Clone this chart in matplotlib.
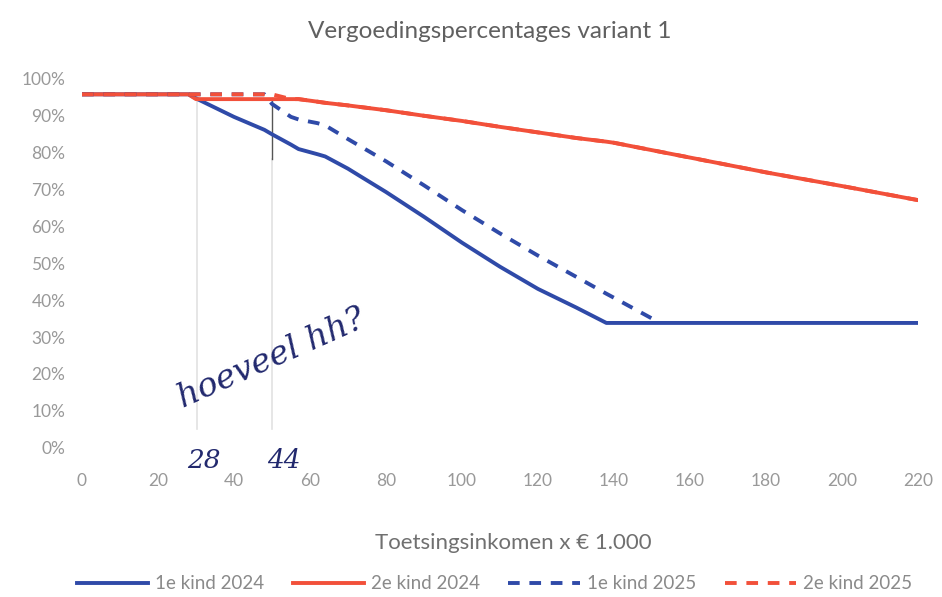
import numpy as np
from matplotlib import pyplot as plt

plt.rcParams['font.family'] = ['Lato', 'DejaVu Sans']

# toetsingsinkomen x 1000
inkomen = [0, 28, 30, 40, 48, 50, 55, 57, 62, 64, 70, 73, 80, 90, 100, 110, 120, 130, 138, 140, 150, 160, 180, 200, 220]

kind1_2024 = [95.6, 95.6, 94.5, 89.5, 86.0, 84.8, 82.0, 80.8, 79.4, 78.8, 75.5, 73.6, 69.2, 62.5, 55.5, 49.0, 43.0, 38.0, 33.8, 33.8, 33.8, 33.8, 33.8, 33.8, 33.8]
kind2_2024 = [95.6, 95.6, 94.3, 94.3, 94.3, 94.3, 94.3, 94.3, 93.6, 93.3, 92.6, 92.2, 91.3, 89.8, 88.4, 86.8, 85.3, 83.8, 82.8, 82.5, 80.5, 78.5, 74.5, 70.8, 67.0]
kind1_2025 = [95.6, 95.6, 95.6, 95.6, 95.6, 93.0, 89.5, 88.8, 87.8, 87.2, 83.5, 81.7, 77.5, 71.0, 64.3, 58.0, 52.0, 46.3, 41.7, 40.6, 35.0, np.nan, np.nan, np.nan, np.nan]
kind2_2025 = [95.6, 95.6, 95.6, 95.6, 95.6, 95.6, 94.3, 94.3, 93.6, 93.3, 92.6, 92.2, 91.3, 89.8, 88.4, 86.8, 85.3, 83.8, 82.8, 82.5, 80.5, 78.5, 74.5, 70.8, 67.0]

xticks = list(range(0, 221, 20))
yticks = list(range(0, 101, 10))

# handgeschreven notities
potlood_x = [30.3, 50.0]
notities = ['28', '44']

blauw = '#2f4aa8'
rood = '#f2503a'
grijs = '#999999'

fig = plt.figure(figsize=(9.42, 5.97), dpi=100)
ax = fig.add_axes([0.087, 0.2496, 0.8875, 0.6197])

# potloodlijnen
ax.plot([potlood_x[0]] * 2, [5, 95], color='#e2e2e2', lw=1.2, zorder=1)
ax.plot([potlood_x[1]] * 2, [5, 78], color='#e2e2e2', lw=1.2, zorder=1)
ax.plot([potlood_x[1]] * 2, [78, 94.5], color='#555555', lw=1.0, zorder=1)

ax.plot(inkomen, kind1_2024, color=blauw, lw=2.8, label='1e kind 2024', zorder=3)
ax.plot(inkomen, kind2_2024, color=rood, lw=2.8, label='2e kind 2024', zorder=3)
ax.plot(inkomen, kind1_2025, color=blauw, lw=2.8, ls=(0, (3, 2.5)), label='1e kind 2025', zorder=4)
ax.plot(inkomen, kind2_2025, color=rood, lw=2.8, ls=(0, (3, 2.5)), label='2e kind 2025', zorder=4)

ax.set_xlim(0, 220)
ax.set_ylim(0, 100)
ax.set_xticks(xticks)
ax.set_yticks(yticks)
ax.set_yticklabels([f'{v}%' for v in yticks])
ax.tick_params(length=0, colors=grijs, labelsize=12.5)
ax.tick_params(axis='x', pad=18)
ax.tick_params(axis='y', pad=12)
for s in ax.spines.values():
    s.set_visible(False)

fig.text(0.52, 0.948, 'Vergoedingspercentages variant 1', ha='center', va='center',
         color='#606060', fontsize=17.5)
fig.text(0.545, 0.09, 'Toetsingsinkomen x € 1.000', ha='center', va='center',
         color='#707070', fontsize=16)

leg = fig.legend(loc='center', bbox_to_anchor=(0.525, 0.022), ncol=4, frameon=False,
                 handlelength=3.8, columnspacing=1.5, handletextpad=0.4,
                 fontsize=13.5, labelcolor='#8a8a8a')

# handschrift
hand = '#22296e'
ax.text(50, 24, 'hoeveel hh?', rotation=24, ha='center', va='center', color=hand,
        fontsize=24, style='italic', family=['DejaVu Serif'])
ax.text(32, -3.5, notities[0], ha='center', va='center', color=hand, fontsize=19,
        family=['DejaVu Serif'], style='italic')
ax.text(53, -3.5, notities[1], ha='center', va='center', color=hand, fontsize=19,
        family=['DejaVu Serif'], style='italic')

fig.savefig('out.png', dpi=100, facecolor='white')
